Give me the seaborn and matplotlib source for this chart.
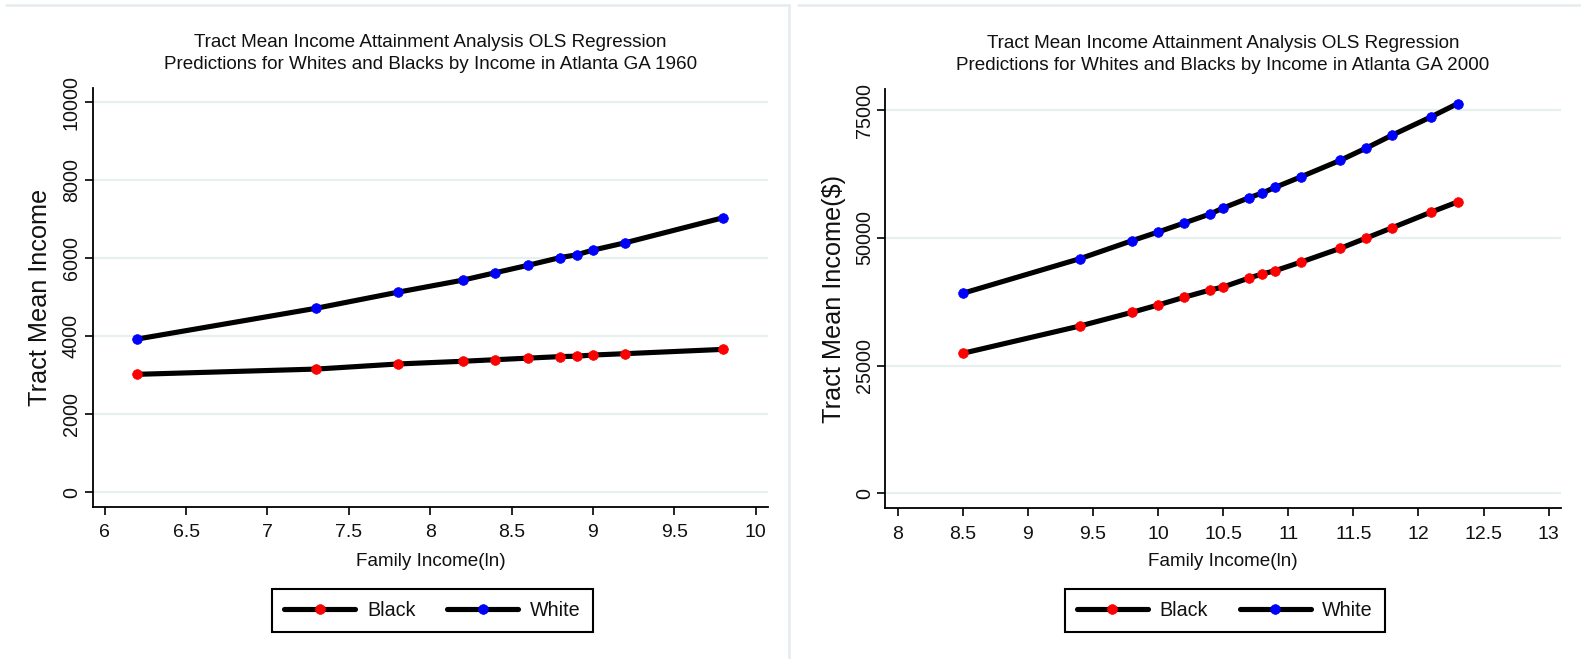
import numpy as np
import pandas as pd
import matplotlib
matplotlib.use("Agg")
import matplotlib.pyplot as plt
from matplotlib.lines import Line2D
import seaborn as sns

# ---------------- data ----------------
x1960 = [6.2, 7.3, 7.8, 8.2, 8.4, 8.6, 8.8, 8.9, 9.0, 9.2, 9.8]
white1960 = [3930, 4720, 5130, 5440, 5630, 5820, 6020, 6090, 6210, 6400, 7040]
black1960 = [3025, 3160, 3290, 3360, 3400, 3440, 3480, 3490, 3520, 3555, 3665]

x2000 = [8.5, 9.4, 9.8, 10.0, 10.2, 10.4, 10.5, 10.7, 10.8, 10.9, 11.1, 11.4, 11.6, 11.8, 12.1, 12.3]
white2000 = [39160, 45940, 49460, 51160, 52920, 54690, 55860, 57880, 58800, 59910,
             61990, 65200, 67610, 70150, 73740, 76290]
black2000 = [27410, 32760, 35440, 36870, 38380, 39810, 40390, 42160, 42940, 43590,
             45290, 47970, 49990, 52010, 55080, 57040]

yticks1960 = [0, 2000, 4000, 6000, 8000, 10000]
xticks1960 = [6, 6.5, 7, 7.5, 8, 8.5, 9, 9.5, 10]
xticklabels1960 = ["6", "6.5", "7", "7.5", "8", "8.5", "9", "9.5", "10"]
yticks2000 = [0, 25000, 50000, 75000]
xticks2000 = [8, 8.5, 9, 9.5, 10, 10.5, 11, 11.5, 12, 12.5, 13]
xticklabels2000 = ["8", "8.5", "9", "9.5", "10", "10.5", "11", "11.5", "12", "12.5", "13"]

titles = ["Tract Mean Income Attainment Analysis OLS Regression\nPredictions for Whites and Blacks by Income in Atlanta GA 1960",
          "Tract Mean Income Attainment Analysis OLS Regression\nPredictions for Whites and Blacks by Income in Atlanta GA 2000"]
ylabels = ["Tract Mean Income", "Tract Mean Income($)"]
xlabel = "Family Income(ln)"
series_names = ["Black", "White"]
marker_colors = ["#ff0000", "#0000ff"]

# ---------------- style ----------------
sns.set_style("white")
FONT = ["Liberation Sans", "DejaVu Sans"]
plt.rcParams["font.family"] = FONT

W, H = 1581, 659
fig = plt.figure(figsize=(W / 100, H / 100), dpi=100)
fig.patch.set_facecolor("white")

def fx(px):
    return px / W

def fy(py):
    return 1 - py / H

panels = [
    dict(rect=(92.7, 88.3, 768, 506.7), x=x1960, b=black1960, w=white1960,
         xlim=(5.926, 10.076), ylim=(-369, 10359), yt=yticks1960,
         xt=xticks1960, xtl=xticklabels1960, ylab_x=40, ypad=2.5),
    dict(rect=(884.7, 89.3, 1561, 508.3), x=x2000, b=black2000, w=white2000,
         xlim=(7.90, 13.095), ylim=(-2937, 79100), yt=yticks2000,
         xt=xticks2000, xtl=xticklabels2000, ylab_x=834, ypad=1.5),
]

grid_color = "#e8eff1"
TXT = "#111111"

for i, p in enumerate(panels):
    l, t, r, btm = p["rect"]
    ax = fig.add_axes([fx(l), fy(btm), fx(r - l), (btm - t) / H])
    ax.set_facecolor("white")
    df_b = pd.DataFrame({"x": p["x"], "y": p["b"]})
    df_w = pd.DataFrame({"x": p["x"], "y": p["w"]})
    for df, name, mc in [(df_b, series_names[0], marker_colors[0]),
                         (df_w, series_names[1], marker_colors[1])]:
        sns.lineplot(data=df, x="x", y="y", ax=ax, color="black", lw=3.7,
                     marker="o", markersize=7.0, markerfacecolor=mc,
                     markeredgecolor=mc, markeredgewidth=0.5, label=name,
                     legend=False, zorder=3)
    ax.set_xlim(*p["xlim"])
    ax.set_ylim(*p["ylim"])
    ax.set_xticks(p["xt"])
    ax.set_xticklabels(p["xtl"], fontsize=14, color=TXT)
    ax.set_yticks(p["yt"])
    ax.set_yticklabels([str(v) for v in p["yt"]], fontsize=14.2, rotation=90, color=TXT)
    for lab in ax.get_yticklabels():
        lab.set_va("center")
        lab.set_ha("right")
    ax.tick_params(axis="x", length=6, width=1.2, color="black", pad=6.5, direction="out",
                   bottom=True)
    ax.tick_params(axis="y", length=6, width=1.2, color="black", pad=p["ypad"],
                   direction="out", left=True)
    ax.yaxis.grid(True, color=grid_color, lw=1.6)
    ax.xaxis.grid(False)
    ax.set_axisbelow(True)
    for s in ["top", "right"]:
        ax.spines[s].set_visible(False)
    for s in ["left", "bottom"]:
        ax.spines[s].set_color("black")
        ax.spines[s].set_linewidth(1.3)

    ax.set_title(titles[i], fontsize=13.6, linespacing=1.42, pad=13.6, color=TXT)
    ax.set_xlabel(xlabel, fontsize=13.6, color=TXT)
    ax.xaxis.label.set_va("center")
    ax.xaxis.set_label_coords(0.5, -(561.7 - btm) / (btm - t))
    ax.set_ylabel(ylabels[i], fontsize=18.2, color=TXT)
    ax.yaxis.label.set_va("center")
    ax.yaxis.set_label_coords(-(l - p["ylab_x"]) / (r - l), 0.5)

    handles, labels = ax.get_legend_handles_labels()
    cx = (l + r) / 2 + 2
    leg = ax.legend(handles, labels, ncol=2, loc="center",
                    bbox_to_anchor=(fx(cx), fy(610.5)), bbox_transform=fig.transFigure,
                    prop={"size": 14.2}, frameon=True, fancybox=False,
                    edgecolor="black", framealpha=1, handlelength=3.6,
                    handletextpad=0.6, columnspacing=1.6, borderpad=0.62,
                    numpoints=1, borderaxespad=0)
    leg.get_frame().set_linewidth(1.5)
    for txt in leg.get_texts():
        txt.set_color(TXT)
    for lh in leg.get_lines():
        lh.set_markersize(7)

# panel borders (image frames)
fig.add_artist(Line2D([fx(6), fx(789)], [fy(5), fy(5)], color="#e4ecee", lw=1.8))
fig.add_artist(Line2D([fx(798), fx(1581)], [fy(5), fy(5)], color="#e4ecee", lw=1.8))
fig.add_artist(Line2D([fx(789), fx(789)], [fy(5), fy(659)], color="#e4ecee", lw=1.8))

fig.savefig("out.png", dpi=100, facecolor="white")
